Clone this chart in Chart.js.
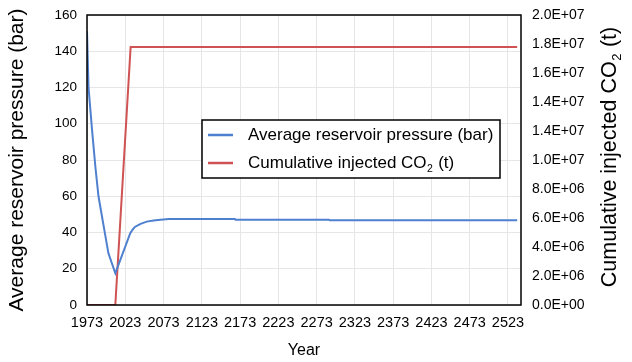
<!DOCTYPE html>
<html>
<head>
<meta charset="utf-8">
<script src="https://cdn.jsdelivr.net/npm/chart.js@4.4.0/dist/chart.umd.min.js"></script>
<style>
  html, body { margin: 0; padding: 0; background: #fff; }
  #wrap { width: 632px; height: 362px; }
</style>
</head>
<body>
<div id="wrap"><canvas id="myChart" width="632" height="362"></canvas></div>
<script>
let pressureYears = [1973, 1975, 1979.5, 1984, 1988, 1995, 2001, 2010, 2029.5, 2033, 2036, 2043, 2051, 2060, 2069, 2080, 2166, 2167, 2289, 2290, 2535];
let pressureValues = [151, 120, 97, 76, 60, 43, 28.5, 17.5, 39.6, 41.8, 43.2, 44.8, 46, 46.6, 47, 47.4, 47.4, 47.1, 47.1, 46.7, 46.7];

let co2Years = [1973, 2010, 2030, 2535];
let co2Values = [0, 0, 1.78e7, 1.78e7];

let xTicks = [1973, 2023, 2073, 2123, 2173, 2223, 2273, 2323, 2373, 2423, 2473, 2523];
let leftTicks = [0, 20, 40, 60, 80, 100, 120, 140, 160];
let rightTicks = [0, 2e6, 4e6, 6e6, 8e6, 1e7, 1.2e7, 1.4e7, 1.6e7, 1.8e7, 2e7];
let rightTickLabels = ['0.0E+00', '2.0E+06', '4.0E+06', '6.0E+06', '8.0E+06', '1.0E+07', '1.4E+07', '1.4E+07', '1.6E+07', '1.8E+07', '2.0E+07'];

let labels = ['Average reservoir pressure (bar)', 'Cumulative injected CO'];
let colors = ['#4f80cf', '#cf5353'];

const FONT = '"Liberation Sans", Arial, Helvetica, sans-serif';

// draws the frame, the legend box and the right axis title (with subscript 2)
const extras = {
    id: 'extras',
    afterDraw(chart) {
        const ctx = chart.ctx;
        const a = chart.chartArea;
        ctx.save();
        ctx.strokeStyle = '#000';
        ctx.lineWidth = 1.5;
        ctx.strokeRect(a.left, a.top, a.right - a.left, a.bottom - a.top);

        // legend
        const lx = 202, ly = 120, lw = 298, lh = 58;
        ctx.fillStyle = '#fff';
        ctx.fillRect(lx, ly, lw, lh);
        ctx.strokeRect(lx, ly, lw, lh);
        ctx.lineWidth = 2.5;
        ctx.fillStyle = '#000';
        ctx.textBaseline = 'middle';
        ctx.textAlign = 'left';
        ctx.font = '17px ' + FONT;
        const rows = [135, 163];
        for (let i = 0; i < 2; i++) {
            ctx.strokeStyle = colors[i];
            ctx.beginPath();
            ctx.moveTo(208, rows[i]);
            ctx.lineTo(233, rows[i]);
            ctx.stroke();
            ctx.fillText(labels[i], 248, rows[i]);
        }
        let w = ctx.measureText(labels[1]).width;
        ctx.font = '10.5px ' + FONT;
        ctx.fillText('2', 248 + w + 0.5, rows[1] + 6);
        let w2 = ctx.measureText('2').width;
        ctx.font = '17px ' + FONT;
        ctx.fillText(' (t)', 248 + w + w2 + 1, rows[1]);

        // right axis title
        ctx.translate(610, 157);
        ctx.rotate(-Math.PI / 2);
        const t1 = 'Cumulative injected CO', t3 = ' (t)';
        ctx.font = '21.5px ' + FONT;
        const a1 = ctx.measureText(t1).width;
        const a3 = ctx.measureText(t3).width;
        ctx.font = '13px ' + FONT;
        const a2 = ctx.measureText('2').width;
        const total = a1 + a2 + a3 + 1;
        let x0 = -total / 2;
        ctx.font = '21.5px ' + FONT;
        ctx.fillText(t1, x0, 0);
        ctx.font = '13px ' + FONT;
        ctx.fillText('2', x0 + a1 + 0.5, 7);
        ctx.font = '21.5px ' + FONT;
        ctx.fillText(t3, x0 + a1 + a2 + 1, 0);
        ctx.restore();
    }
};

let ctx = document.getElementById('myChart').getContext('2d');

let chart = new Chart(ctx, {
    type: 'line',
    data: {
        datasets: [{
            label: labels[0],
            data: pressureYears.map((x, i) => ({ x: x, y: pressureValues[i] })),
            borderColor: colors[0],
            borderWidth: 2,
            pointRadius: 0,
            tension: 0,
            yAxisID: 'y'
        }, {
            label: labels[1],
            data: co2Years.map((x, i) => ({ x: x, y: co2Values[i] })),
            borderColor: colors[1],
            borderWidth: 2,
            pointRadius: 0,
            yAxisID: 'y2'
        }]
    },
    options: {
        responsive: false,
        animation: false,
        layout: { padding: { top: 15, left: 0, right: 0, bottom: 0 } },
        plugins: {
            legend: { display: false },
            tooltip: { enabled: false }
        },
        scales: {
            x: {
                type: 'linear',
                min: 1973,
                max: 2540,
                afterBuildTicks: (s) => { s.ticks = xTicks.map(v => ({ value: v })); },
                afterFit: (s) => { s.height = 57; s.paddingLeft = 0; s.paddingRight = 0; },
                grid: { color: '#e6e6e6', drawTicks: false },
                border: { display: false },
                ticks: {
                    padding: 9,
                    maxRotation: 0,
                    autoSkip: false,
                    color: '#000',
                    font: { family: FONT, size: 14.5 },
                    callback: (v) => String(v)
                },
                title: {
                    display: true,
                    text: 'Year',
                    color: '#000',
                    padding: { top: 0, bottom: 2 },
                    font: { family: FONT, size: 16 }
                }
            },
            y: {
                position: 'left',
                min: 0,
                max: 160,
                afterBuildTicks: (s) => { s.ticks = leftTicks.map(v => ({ value: v })); },
                afterFit: (s) => { s.width = 87; s.paddingTop = 0; s.paddingBottom = 0; },
                grid: { color: '#e6e6e6', drawTicks: false },
                border: { display: false },
                ticks: {
                    padding: 10,
                    color: '#000',
                    font: { family: FONT, size: 13.5 }
                },
                title: {
                    display: true,
                    text: 'Average reservoir pressure (bar)',
                    color: '#000',
                    padding: 5,
                    font: { family: FONT, size: 21 }
                }
            },
            y2: {
                position: 'right',
                min: 0,
                max: 2e7,
                afterBuildTicks: (s) => { s.ticks = rightTicks.map(v => ({ value: v })); },
                afterFit: (s) => { s.width = 111; s.paddingTop = 0; s.paddingBottom = 0; },
                grid: { display: false, drawTicks: false },
                border: { display: false },
                ticks: {
                    padding: 11,
                    color: '#000',
                    font: { family: FONT, size: 14 },
                    callback: (v, i) => rightTickLabels[i]
                }
            }
        }
    },
    plugins: [extras]
});
</script>
</body>
</html>
